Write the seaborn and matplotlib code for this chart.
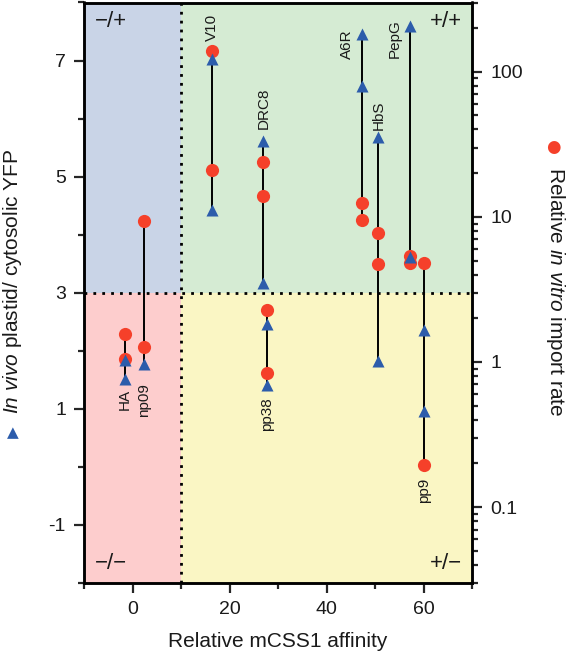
import numpy as np
import pandas as pd
import matplotlib
matplotlib.use("Agg")
import matplotlib.pyplot as plt
from matplotlib.patches import Rectangle
from matplotlib.ticker import FixedLocator
import seaborn as sns

# --- data ---
constructs = ['HA', 'np09', 'V10', 'DRC8', 'pp38', 'A6R', 'HbS', 'PepG', 'pp9']
affinity = [-1.5, 2.3, 16.3, 27.0, 27.8, 47.4, 50.7, 57.3, 60.2]

# in vivo plastid / cytosolic YFP (left, linear)
vivo_construct = ['HA', 'HA', 'np09', 'V10', 'V10', 'DRC8', 'DRC8', 'pp38', 'pp38',
                  'A6R', 'A6R', 'HbS', 'HbS', 'PepG', 'PepG', 'pp9', 'pp9']
vivo_value = [1.84, 1.52, 1.78, 7.02, 4.43, 5.62, 3.16, 2.47, 1.41,
              7.45, 6.57, 5.69, 1.83, 7.59, 3.62, 2.36, 0.97]

# relative in vitro import rate (right, log)
vitro_construct = ['HA', 'HA', 'np09', 'np09', 'V10', 'V10', 'DRC8', 'DRC8', 'pp38', 'pp38',
                   'A6R', 'A6R', 'HbS', 'HbS', 'PepG', 'PepG', 'pp9', 'pp9']
vitro_value = [1.56, 1.05, 9.4, 1.27, 140, 21, 24, 14, 2.28, 0.84,
               12.5, 9.5, 7.8, 4.7, 5.4, 4.8, 4.8, 0.195]

quadrant_labels = ['\u2212/+', '+/+', '\u2212/\u2212', '+/\u2212']

aff = dict(zip(constructs, affinity))
vivo = pd.DataFrame({'construct': vivo_construct, 'value': vivo_value})
vivo['affinity'] = vivo['construct'].map(aff)
vitro = pd.DataFrame({'construct': vitro_construct, 'value': vitro_value})
vitro['affinity'] = vitro['construct'].map(aff)

sns.set_style('ticks')
plt.rcParams['font.family'] = ['Liberation Sans', 'DejaVu Sans']
plt.rcParams['mathtext.fontset'] = 'custom'
plt.rcParams['mathtext.rm'] = 'Liberation Sans'
plt.rcParams['mathtext.it'] = 'Liberation Sans:italic'
plt.rcParams['axes.unicode_minus'] = False

RED = '#f5402a'
BLUE = '#2c5cab'
TXT = '#1a1a1a'

fig = plt.figure(figsize=(5.66, 6.59), dpi=100)
ax = fig.add_axes([84 / 566, 1 - 583 / 659, (472 - 84) / 566, (583 - 2.5) / 659])
ax2 = ax.twinx()
ax.set_zorder(2)
ax2.set_zorder(1)
ax.patch.set_visible(False)

ax.set_xlim(-10, 70)
ax.set_ylim(-2, 8)
ax2.set_yscale('log')
ax2.set_ylim(0.03, 300)

# quadrant backgrounds (right axis: y=3 lines up with left y=3)
for (x0, x1), (y0, y1), c in [((-10, 10), (3, 300), '#c9d4e7'),
                              ((10, 70), (3, 300), '#d5ebd3'),
                              ((-10, 10), (0.03, 3), '#fdcdcd'),
                              ((10, 70), (0.03, 3), '#faf6c4')]:
    ax2.add_patch(Rectangle((x0, y0), x1 - x0, y1 - y0, color=c, lw=0, zorder=0))
ax2.axvline(10, color='black', ls=(0, (1, 2.2)), lw=2, zorder=1)
ax2.axhline(3, color='black', ls=(0, (1, 2.2)), lw=2, zorder=1)

# convert in vivo values to the right-axis scale for connectors
def vivo_to_rate(y):
    disp = ax.transData.transform(np.column_stack([np.zeros_like(y), y]))
    return ax2.transData.inverted().transform(disp)[:, 1]

vivo['as_rate'] = vivo_to_rate(vivo['value'].to_numpy(dtype=float))
ext = {}
for c in constructs:
    vals = list(vivo.loc[vivo.construct == c, 'as_rate']) + list(vitro.loc[vitro.construct == c, 'value'])
    ext[c] = (min(vals), max(vals))
    ax2.vlines(aff[c], min(vals), max(vals), color='black', lw=1.4, zorder=2)

sns.scatterplot(data=vitro, x='affinity', y='value', ax=ax2, color=RED, marker='o',
                s=90, linewidth=0, zorder=3, legend=False)
sns.scatterplot(data=vivo, x='affinity', y='value', ax=ax, color=BLUE, marker='^',
                s=75, linewidth=0, zorder=4, legend=False)

# construct labels (pixel offsets from the extreme marker)
px = 0.72
place = {'HA': ('below', 0, 10), 'np09': ('below', 0, 20), 'pp38': ('below', 0, 12),
         'pp9': ('below', 0, 13), 'V10': ('above', 0, 10), 'DRC8': ('above', 0, 12),
         'HbS': ('above', 0, 7), 'A6R': ('left', -15, -10), 'PepG': ('left', -16, -12)}
for c in constructs:
    side, dx, dy = place[c]
    lo, hi = ext[c]
    if side == 'below':
        ax2.annotate(c, (aff[c], lo), xytext=(dx * px, -dy * px), textcoords='offset points',
                     rotation=90, ha='center', va='top', fontsize=11, color=TXT, zorder=5)
    elif side == 'above':
        ax2.annotate(c, (aff[c], hi), xytext=(dx * px, dy * px), textcoords='offset points',
                     rotation=90, ha='center', va='bottom', fontsize=11, color=TXT, zorder=5)
    else:
        ax2.annotate(c, (aff[c], hi), xytext=(dx * px, dy * px), textcoords='offset points',
                     rotation=90, ha='center', va='center', fontsize=11, color=TXT, zorder=5)

# quadrant labels
qkw = dict(transform=ax.transAxes, fontsize=16, color=TXT)
ax.text(0.028, 0.985, quadrant_labels[0], ha='left', va='top', **qkw)
ax.text(0.975, 0.985, quadrant_labels[1], ha='right', va='top', **qkw)
ax.text(0.028, 0.015, quadrant_labels[2], ha='left', va='bottom', **qkw)
ax.text(0.975, 0.015, quadrant_labels[3], ha='right', va='bottom', **qkw)

# axes styling
ax.yaxis.set_major_locator(FixedLocator([-1, 1, 3, 5, 7]))
ax.yaxis.set_minor_locator(FixedLocator([-2, 0, 2, 4, 6, 8]))
ax.xaxis.set_major_locator(FixedLocator([0, 20, 40, 60]))
ax.xaxis.set_minor_locator(FixedLocator([-10, 10, 30, 50, 70]))
for a in (ax, ax2):
    for s in a.spines.values():
        s.set_linewidth(1.8)
        s.set_color('black')
    a.tick_params(which='major', length=7, width=1.6, labelsize=14, labelcolor=TXT, pad=6)
    a.tick_params(which='minor', length=4, width=1.6)
ax.set_xlabel('Relative mCSS1 affinity', fontsize=15, color=TXT, labelpad=10)
ax.set_ylabel('')
ax2.set_ylabel('')
ax2.yaxis.set_major_locator(matplotlib.ticker.LogLocator(base=10, numticks=10))
ax2.yaxis.set_minor_locator(matplotlib.ticker.LogLocator(base=10, subs=np.arange(2, 10), numticks=20))
ax2.yaxis.set_minor_formatter(matplotlib.ticker.NullFormatter())
ax2.yaxis.set_major_formatter(matplotlib.ticker.FuncFormatter(lambda v, p: f'{v:g}'))

# y-axis titles with marker glyphs
fig.text(13 / 566, 1 - 281 / 659, '$\\it{In\\ vivo}$ plastid/ cytosolic YFP', rotation=90,
         ha='center', va='center', fontsize=15, color=TXT)
fig.text(13 / 566, 1 - 433 / 659, '\u25B2', ha='center', va='center', fontsize=11,
         color=BLUE, family=['DejaVu Sans'])
fig.text(555 / 566, 1 - 292 / 659, 'Relative $\\it{in\\ vitro}$ import rate', rotation=270,
         ha='center', va='center', fontsize=15, color=TXT)
fig.text(553 / 566, 1 - 147 / 659, '\u25CF', ha='center', va='center', fontsize=12,
         color=RED, family=['DejaVu Sans'])

fig.savefig('out.png', dpi=100)
